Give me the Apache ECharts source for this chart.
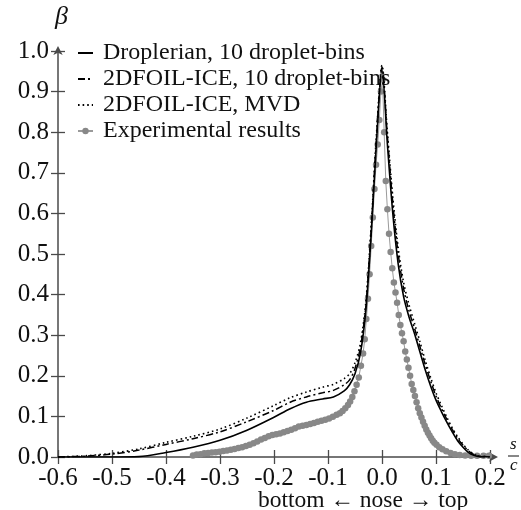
<!DOCTYPE html>
<html><head><meta charset="utf-8">
<script src="https://cdn.jsdelivr.net/npm/echarts@6/dist/echarts.min.js"></script>
<style>html,body{margin:0;padding:0;background:#fff}#c{width:521px;height:510px}</style>
</head><body><div id="c"></div>
<script>
var xTicks = [-0.6,-0.5,-0.4,-0.3,-0.2,-0.1,0.0,0.1,0.2];
var yTicks = [0.0,0.1,0.2,0.3,0.4,0.5,0.6,0.7,0.8,0.9,1.0];
var seriesNames = ['Droplerian, 10 droplet-bins','2DFOIL-ICE, 10 droplet-bins','2DFOIL-ICE, MVD','Experimental results'];

var droplerian = [[-0.6,0],[-0.5,0],[-0.45,0.001],[-0.4,0.011],[-0.35,0.024],[-0.3,0.041],[-0.25,0.066],[-0.2,0.098],[-0.17,0.119],[-0.14,0.135],[-0.11,0.143],[-0.09,0.148],[-0.07,0.163],[-0.06,0.178],[-0.05,0.205],[-0.04,0.255],[-0.03,0.36],[-0.02,0.55],[-0.01,0.78],[0,0.955],[0.01,0.77],[0.02,0.60],[0.03,0.475],[0.04,0.395],[0.05,0.345],[0.06,0.305],[0.07,0.26],[0.08,0.215],[0.09,0.175],[0.1,0.14],[0.11,0.112],[0.12,0.086],[0.13,0.062],[0.14,0.04],[0.15,0.024],[0.16,0.011],[0.17,0.004],[0.18,0.001],[0.19,0]];

var foil10 = [[-0.6,0],[-0.55,0.002],[-0.5,0.007],[-0.45,0.017],[-0.4,0.031],[-0.35,0.045],[-0.3,0.062],[-0.25,0.087],[-0.2,0.115],[-0.17,0.135],[-0.14,0.148],[-0.11,0.158],[-0.09,0.164],[-0.07,0.178],[-0.06,0.19],[-0.05,0.218],[-0.04,0.27],[-0.03,0.37],[-0.02,0.56],[-0.01,0.79],[0,0.96],[0.01,0.79],[0.02,0.625],[0.03,0.50],[0.04,0.415],[0.05,0.36],[0.06,0.318],[0.07,0.273],[0.08,0.228],[0.09,0.187],[0.1,0.15],[0.11,0.12],[0.12,0.093],[0.13,0.068],[0.14,0.046],[0.15,0.029],[0.16,0.015],[0.17,0.006],[0.18,0.002],[0.19,0.001],[0.2,0]];

var foilMVD = [[-0.6,0],[-0.55,0.003],[-0.5,0.009],[-0.45,0.02],[-0.4,0.036],[-0.35,0.051],[-0.3,0.069],[-0.25,0.096],[-0.2,0.127],[-0.17,0.146],[-0.14,0.16],[-0.11,0.172],[-0.09,0.179],[-0.07,0.193],[-0.06,0.205],[-0.05,0.232],[-0.04,0.28],[-0.03,0.38],[-0.02,0.57],[-0.01,0.80],[0,0.965],[0.01,0.80],[0.02,0.64],[0.03,0.515],[0.04,0.43],[0.05,0.375],[0.06,0.33],[0.07,0.285],[0.08,0.238],[0.09,0.196],[0.1,0.158],[0.11,0.127],[0.12,0.098],[0.13,0.072],[0.14,0.05],[0.15,0.032],[0.16,0.017],[0.17,0.007],[0.18,0.002],[0.19,0.001],[0.2,0]];

var experimental = [[-0.350,0.004],[-0.343,0.006],[-0.336,0.007],[-0.329,0.009],[-0.322,0.010],[-0.315,0.011],[-0.308,0.012],[-0.301,0.013],[-0.294,0.015],[-0.287,0.016],[-0.280,0.018],[-0.273,0.020],[-0.266,0.022],[-0.259,0.024],[-0.252,0.027],[-0.245,0.030],[-0.238,0.034],[-0.231,0.038],[-0.224,0.043],[-0.217,0.047],[-0.210,0.051],[-0.203,0.054],[-0.196,0.056],[-0.189,0.058],[-0.182,0.061],[-0.175,0.064],[-0.168,0.067],[-0.161,0.071],[-0.154,0.075],[-0.147,0.077],[-0.140,0.079],[-0.133,0.081],[-0.126,0.084],[-0.119,0.087],[-0.112,0.089],[-0.105,0.092],[-0.098,0.095],[-0.091,0.099],[-0.084,0.104],[-0.078,0.108],[-0.073,0.113],[-0.068,0.120],[-0.063,0.128],[-0.059,0.137],[-0.055,0.148],[-0.051,0.162],[-0.047,0.178],[-0.043,0.196],[-0.039,0.225],[-0.035,0.255],[-0.032,0.29],[-0.029,0.34],[-0.026,0.39],[-0.023,0.45],[-0.020,0.52],[-0.017,0.59],[-0.014,0.66],[-0.011,0.72],[-0.008,0.77],[-0.005,0.83],[-0.002,0.90],[0.001,0.93],[0.004,0.80],[0.007,0.68],[0.010,0.61],[0.013,0.55],[0.016,0.505],[0.019,0.465],[0.022,0.43],[0.025,0.405],[0.028,0.38],[0.031,0.35],[0.034,0.325],[0.037,0.305],[0.040,0.285],[0.043,0.26],[0.046,0.24],[0.049,0.22],[0.052,0.20],[0.055,0.18],[0.058,0.165],[0.061,0.15],[0.064,0.135],[0.067,0.12],[0.070,0.108],[0.073,0.097],[0.076,0.087],[0.079,0.077],[0.082,0.068],[0.085,0.06],[0.088,0.053],[0.091,0.046],[0.094,0.04],[0.097,0.035],[0.101,0.03],[0.106,0.024],[0.112,0.019],[0.119,0.014],[0.127,0.010],[0.135,0.007],[0.144,0.005],[0.154,0.004],[0.165,0.003],[0.176,0.003],[0.188,0.003],[0.198,0.003]];

var FONT = '"Liberation Serif","DejaVu Serif",serif';
var AX = '#4a4a4a';
var chart = echarts.init(document.getElementById('c'), null, {renderer:'canvas'});
var fmt1 = function(v){ return (Math.round(v*10)/10).toFixed(1); };
var baseX = {type:'value', min:xTicks[0], max:xTicks[xTicks.length-1], interval:0.1, position:'bottom'};
var baseY = {type:'value', min:yTicks[0], max:yTicks[yTicks.length-1], interval:0.1, position:'left'};
var hideSym = {opacity:0};
chart.setOption({
  animation:false,
  backgroundColor:'#fff',
  grid:{left:58, right:31, top:51, bottom:53},
  legend:{
    orient:'vertical', left:72, top:36, itemGap:2, itemWidth:15, itemHeight:8,
    data:[
      {name:seriesNames[0], itemStyle:hideSym},
      {name:seriesNames[1], itemStyle:hideSym},
      {name:seriesNames[2], itemStyle:hideSym},
      {name:seriesNames[3]}
    ],
    textStyle:{fontFamily:FONT, fontSize:24, lineHeight:24, color:'#111', padding:[0,0,0,5]}
  },
  xAxis:[
    Object.assign({}, baseX, {
      axisLine:{show:true, onZero:false, lineStyle:{color:AX, width:1.5}, symbol:['none','arrow'], symbolSize:[7,9], symbolOffset:[0,8]},
      axisTick:{show:true, inside:false, length:7, lineStyle:{color:AX, width:1.3}},
      axisLabel:{formatter:fmt1, fontFamily:FONT, fontSize:25, color:'#111', margin:9},
      splitLine:{show:false}
    }),
    Object.assign({}, baseX, {
      axisLine:{show:false, onZero:false}, axisTick:{show:true, inside:true, length:7, lineStyle:{color:AX, width:1.3}},
      axisLabel:{show:false}, splitLine:{show:false}
    })
  ],
  yAxis:[
    Object.assign({}, baseY, {
      axisLine:{show:true, onZero:false, lineStyle:{color:AX, width:1.5}, symbol:['none','arrow'], symbolSize:[7,9], symbolOffset:[0,5]},
      axisTick:{show:true, inside:false, length:7, lineStyle:{color:AX, width:1.3}},
      axisLabel:{formatter:fmt1, fontFamily:FONT, fontSize:25, color:'#111', margin:9},
      splitLine:{show:false}
    }),
    Object.assign({}, baseY, {
      axisLine:{show:false, onZero:false}, axisTick:{show:true, inside:true, length:7, lineStyle:{color:AX, width:1.3}},
      axisLabel:{show:false}, splitLine:{show:false}
    })
  ],
  series:[
    {name:seriesNames[0], type:'line', data:droplerian, smooth:0.3, showSymbol:false, symbol:'none', z:5,
     lineStyle:{color:'#000', width:1.6, type:'solid'}, itemStyle:{color:'#000'}},
    {name:seriesNames[1], type:'line', data:foil10, smooth:0.3, showSymbol:false, symbol:'none', z:4,
     lineStyle:{color:'#000', width:1.5, type:[7,3,2,3]}, itemStyle:{color:'#000'}},
    {name:seriesNames[2], type:'line', data:foilMVD, smooth:0.3, showSymbol:false, symbol:'none', z:4,
     lineStyle:{color:'#000', width:1.6, type:[1.6,3]}, itemStyle:{color:'#000'}},
    {name:seriesNames[3], type:'line', data:experimental, smooth:false, symbol:'circle', symbolSize:6.5, showSymbol:true, z:3,
     lineStyle:{color:'#9a9a9a', width:1}, itemStyle:{color:'#888'}}
  ],
  graphic:[
    {type:'text', left:55, top:4, style:{text:'β', font:'italic 26px '+FONT, fill:'#111'}},
    {type:'text', left:510, top:436, style:{text:'s', font:'italic 17px '+FONT, fill:'#111'}},
    {type:'line', shape:{x1:508, y1:456, x2:519, y2:456}, style:{stroke:'#111', lineWidth:1}},
    {type:'text', left:510, top:457, style:{text:'c', font:'italic 17px '+FONT, fill:'#111'}},
    {type:'text', left:258, top:489, style:{text:'bottom ← nose → top', font:'23.5px '+FONT, fill:'#111'}}
  ]
});
</script></body></html>
